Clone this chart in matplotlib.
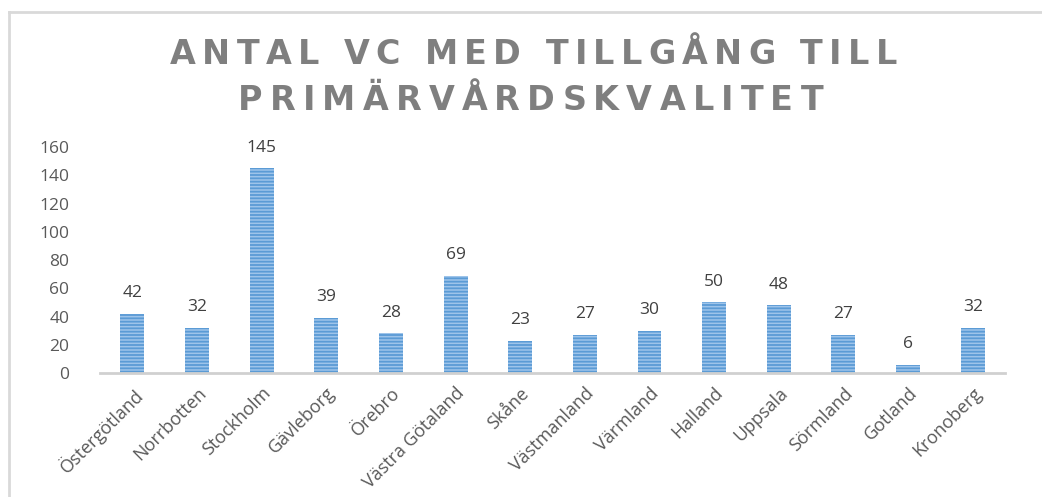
import matplotlib.pyplot as plt
from matplotlib.lines import Line2D

# Data
regioner = ['Östergötland', 'Norrbotten', 'Stockholm', 'Gävleborg', 'Örebro',
            'Västra Götaland', 'Skåne', 'Västmanland', 'Värmland', 'Halland',
            'Uppsala', 'Sörmland', 'Gotland', 'Kronoberg']
antal = [42, 32, 145, 39, 28, 69, 23, 27, 30, 50, 48, 27, 6, 32]
y_ticks = [0, 20, 40, 60, 80, 100, 120, 140, 160]
titel_rader = ['ANTAL VC MED TILLGÅNG TILL', 'PRIMÄRVÅRDSKVALITET']

plt.rcParams['font.family'] = ['Open Sans', 'DejaVu Sans']
plt.rcParams['hatch.linewidth'] = 1.3

fig = plt.figure(figsize=(10.42, 4.97), dpi=100)
ax = fig.add_axes([0.096, 0.2495, 0.8685, 0.4545])

x = range(len(regioner))
bars = ax.bar(x, antal, width=0.37, color='#9EC4EA', edgecolor='#5B9BD5',
              hatch='-----', linewidth=0)
for b, v in zip(bars, antal):
    ax.text(b.get_x() + b.get_width() / 2, v + 9, str(v), ha='center', va='bottom',
            fontsize=12.5, color='#404040')

ax.set_xlim(-0.5, len(regioner) - 0.5)
ax.set_ylim(0, 160)
ax.set_yticks(y_ticks)
ax.tick_params(axis='y', length=0, labelsize=12.5, labelcolor='#595959', pad=22)
ax.set_xticks(list(x))
ax.set_xticklabels(regioner, rotation=45, ha='right', rotation_mode='anchor',
                   fontsize=13, color='#595959')
ax.tick_params(axis='x', length=0, pad=8)

for s in ['top', 'right', 'left']:
    ax.spines[s].set_visible(False)
ax.spines['bottom'].set_color('#D0D0D0')
ax.spines['bottom'].set_linewidth(2)

# titel med extra teckenavstånd, varje rad anpassad till sin bredd
renderer = fig.canvas.get_renderer()
W, H = fig.bbox.width, fig.bbox.height
titel_y = [64, 110]          # baslinje, px från toppen
titel_x = [(170, 897), (238, 823)]  # vänster/höger kant i px
for rad, ypx, (x0, x1) in zip(titel_rader, titel_y, titel_x):
    objs = []
    for ch in rad:
        t = fig.text(0, 1 - ypx / H, ch, ha='left', va='baseline', fontsize=24,
                     fontweight='bold', color='#7F7F7F', family='DejaVu Sans')
        objs.append(t)
    widths = []
    for t, ch in zip(objs, rad):
        if ch == ' ':
            widths.append(12)
        else:
            widths.append(t.get_window_extent(renderer).width)
    spacing = (x1 - x0 - sum(widths)) / (len(rad) - 1)
    xpos = x0
    for t, w in zip(objs, widths):
        t.set_x(xpos / W)
        xpos += w + spacing

# ram runt diagrammet
fig.add_artist(Line2D([9 / 1042, 1], [1 - 12 / 497, 1 - 12 / 497],
                      transform=fig.transFigure, color='#D9D9D9', lw=2))
fig.add_artist(Line2D([9 / 1042, 9 / 1042], [0, 1 - 12 / 497],
                      transform=fig.transFigure, color='#D9D9D9', lw=2))

fig.savefig('out.png', dpi=100)
